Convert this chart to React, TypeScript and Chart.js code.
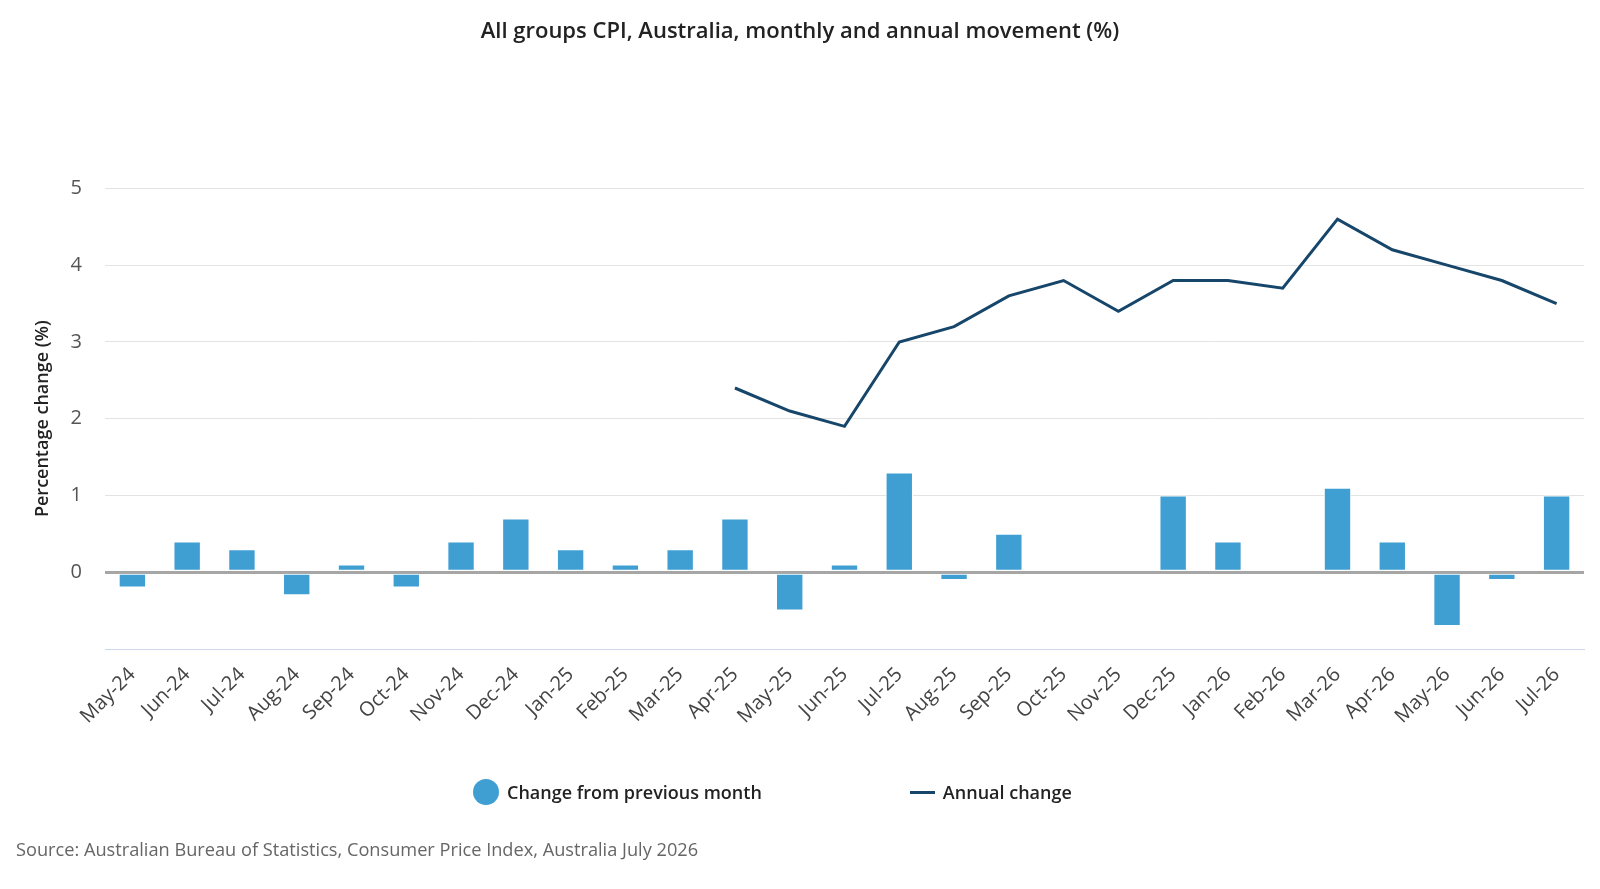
import React, { useEffect, useRef } from 'react';
import Chart from 'chart.js/auto';

const months = [
  'May-24', 'Jun-24', 'Jul-24', 'Aug-24', 'Sep-24', 'Oct-24', 'Nov-24', 'Dec-24', 'Jan-25',
  'Feb-25', 'Mar-25', 'Apr-25', 'May-25', 'Jun-25', 'Jul-25', 'Aug-25', 'Sep-25', 'Oct-25',
  'Nov-25', 'Dec-25', 'Jan-26', 'Feb-26', 'Mar-26', 'Apr-26', 'May-26', 'Jun-26', 'Jul-26'
];

const monthlyChange = [
  -0.2, 0.4, 0.3, -0.3, 0.1, -0.2, 0.4, 0.7, 0.3,
  0.1, 0.3, 0.7, -0.5, 0.1, 1.3, -0.1, 0.5, 0.0,
  0.0, 1.0, 0.4, 0.0, 1.1, 0.4, -0.7, -0.1, 1.0
];

const annualChange = [
  null, null, null, null, null, null, null, null, null,
  null, null, 2.4, 2.1, 1.9, 3.0, 3.2, 3.6, 3.8,
  3.4, 3.8, 3.8, 3.7, 4.6, 4.2, 4.0, 3.8, 3.5
];

const yTicks = [0, 1, 2, 3, 4, 5];

const BAR_BLUE = '#3f9fd3';
const LINE_NAVY = '#17466b';
const FONT = '"Open Sans", "Noto Sans", sans-serif';

const App: React.FC = () => {
  const canvasRef = useRef<HTMLCanvasElement | null>(null);

  useEffect(() => {
    document.body.style.margin = '0';
    document.body.style.overflow = 'hidden';
    const ctx = canvasRef.current?.getContext('2d');
    if (!ctx) return;

    const chart = new Chart(ctx, {
      type: 'bar',
      data: {
        labels: months,
        datasets: [
          {
            type: 'line',
            label: 'Annual change',
            data: annualChange,
            borderColor: LINE_NAVY,
            backgroundColor: LINE_NAVY,
            borderWidth: 3,
            pointRadius: 0,
            tension: 0,
            order: 0
          },
          {
            type: 'bar',
            label: 'Change from previous month',
            data: monthlyChange,
            backgroundColor: BAR_BLUE,
            borderColor: '#ffffff',
            borderWidth: 1,
            borderSkipped: false,
            categoryPercentage: 1,
            barPercentage: 0.5,
            order: 1
          }
        ]
      },
      options: {
        responsive: false,
        animation: false,
        layout: {
          padding: { left: 16, right: 16, bottom: 140 }
        },
        plugins: {
          legend: { display: false },
          tooltip: { enabled: false },
          title: {
            display: true,
            text: 'All groups CPI, Australia, monthly and annual movement (%)',
            color: '#222222',
            font: { family: FONT, size: 22, weight: '600' },
            padding: { top: 19, bottom: 143 }
          }
        },
        scales: {
          x: {
            grid: { display: false, drawTicks: false },
            border: { display: true, color: '#ccd6eb', width: 1 },
            ticks: {
              color: '#444444',
              font: { family: FONT, size: 20 },
              maxRotation: 45,
              minRotation: 45,
              padding: 14,
              autoSkip: false
            },
            afterFit: (scale) => {
              scale.height = 100;
            }
          },
          y: {
            min: -1,
            max: 5,
            afterBuildTicks: (scale) => {
              scale.ticks = [-1, ...yTicks].map((v) => ({ value: v }));
            },
            border: { display: false },
            grid: {
              drawTicks: false,
              color: (c) => (c.tick.value === 0 ? '#a6a6a6' : c.tick.value === -1 ? 'rgba(0,0,0,0)' : '#e3e3e3'),
              lineWidth: (c) => (c.tick.value === 0 ? 3 : 1)
            },
            ticks: {
              color: '#555555',
              font: { family: FONT, size: 20 },
              padding: 23,
              callback: (value) => (Number(value) === -1 ? '' : String(value))
            },
            title: {
              display: true,
              text: 'Percentage change (%)',
              color: '#222222',
              font: { family: FONT, size: 18, weight: '600' },
              padding: { top: 16, bottom: 8 }
            },
            afterFit: (scale) => {
              scale.width = 89;
            }
          }
        }
      }
    });

    return () => {
      chart.destroy();
    };
  }, []);

  return (
    <div style={{ position: 'relative', width: 1600, height: 889, overflow: 'hidden', background: '#ffffff' }}>
      <canvas ref={canvasRef} width={1600} height={889} style={{ display: 'block' }} />
      <div
        style={{
          position: 'absolute',
          top: 779,
          left: 473,
          height: 26,
          display: 'flex',
          alignItems: 'center',
          fontFamily: FONT,
          fontSize: 18,
          fontWeight: 600,
          color: '#222222'
        }}
      >
        <span style={{ display: 'inline-block', width: 26, height: 26, borderRadius: '50%', background: BAR_BLUE, marginRight: 8 }} />
        <span>Change from previous month</span>
        <span style={{ display: 'inline-block', width: 25, height: 3, background: LINE_NAVY, marginLeft: 148, marginRight: 8 }} />
        <span>Annual change</span>
      </div>
      <div
        style={{
          position: 'absolute',
          top: 837,
          left: 16,
          fontFamily: FONT,
          fontSize: 18.2,
          color: '#666666'
        }}
      >
        Source: Australian Bureau of Statistics, Consumer Price Index, Australia July 2026
      </div>
    </div>
  );
};

export default App;
